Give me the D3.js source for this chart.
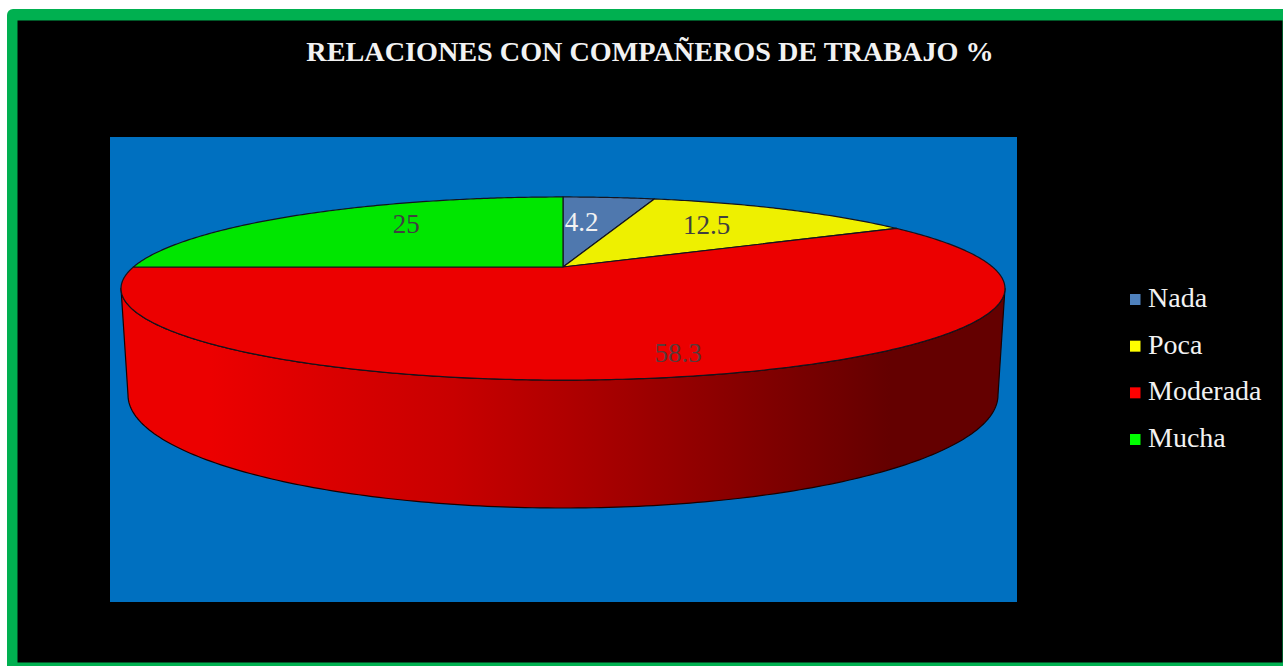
<!DOCTYPE html>
<html><head><meta charset="utf-8">
<script src="https://cdn.jsdelivr.net/npm/d3@7/dist/d3.min.js"></script>
<style>html,body{margin:0;padding:0;background:#fff;overflow:hidden}svg{display:block}text{font-family:"Liberation Serif","Times New Roman",serif}</style>
</head><body><svg id="c" width="1283" height="666"></svg>
<script>
const titleText = "RELACIONES CON COMPAÑEROS DE TRABAJO %";
const categories = ["Nada","Poca","Moderada","Mucha"];
const values = [4.2,12.5,58.3,25];
const sliceColors = ["#4f78ae","#eef000","#ec0000","#00e600"];
const legendColors = ["#4f81bd","#ffff00","#ff0000","#00ff00"];
const labelColors = ["#f2f2f2","#404040","#5a3a3a","#404040"];

const svg = d3.select("#c");
// frame
svg.append("rect").attr("x",7).attr("y",9).attr("width",1300).attr("height",680).attr("rx",6).attr("fill","#00b050");
svg.append("rect").attr("x",17.5).attr("y",20.5).attr("width",1265).attr("height",642).attr("fill","#000");
svg.append("rect").attr("x",110).attr("y",137).attr("width",907).attr("height",465).attr("fill","#0070c0");

svg.append("text").attr("x",650).attr("y",61).attr("text-anchor","middle")
  .attr("font-size",28.2).attr("font-weight","bold").attr("fill","#f2f2f2").text(titleText);

// perspective projection of the pie's top face
const cx=563, apexY=267, R=429.6, H=86.5, k=0.235;
const project=(a,r=1)=>{const s=1/(1+k*r*Math.cos(a));return [cx+R*r*Math.sin(a)*s, apexY-H*r*Math.cos(a)*s];};
const pie=d3.pie().sort(null).value(d=>d)(values);
const line=d3.line();
const arcPts=(a0,a1)=>{const n=Math.max(2,Math.ceil(Math.abs(a1-a0)/0.01));return d3.range(n+1).map(i=>project(a0+(a1-a0)*i/n));};

// side wall: top rim front half to lower rim ellipse
const baseCy=395, baseRx=435, baseRy=113;
const defs=svg.append("defs");
const grad=defs.append("linearGradient").attr("id","wall").attr("gradientUnits","userSpaceOnUse")
  .attr("x1",121).attr("x2",1005).attr("y1",0).attr("y2",0);
[[0,"#ec0000"],[0.10,"#ec0000"],[0.375,"#c80000"],[0.502,"#b00000"],[0.655,"#900000"],[0.87,"#640000"],[1,"#640000"]]
  .forEach(s=>grad.append("stop").attr("offset",s[0]).attr("stop-color",s[1]));

// widest points of the top-face ellipse, found from the projection
const sweep=d3.range(0,2*Math.PI,0.002);
const rightA=d3.greatest(sweep,a=>project(a)[0]);
const leftA=d3.least(sweep,a=>project(a)[0]);
const frontRim=arcPts(rightA,leftA);
const baseRim=d3.range(0,181).map(i=>{const t=Math.PI*i/180;return [cx-baseRx*Math.cos(t),baseCy+baseRy*Math.sin(t)];});
svg.append("path").attr("d",line(frontRim.concat(baseRim))+"Z").attr("fill","url(#wall)")
  .attr("stroke","#1a0000").attr("stroke-width",1.2).attr("stroke-linejoin","round");

// top slices
svg.append("g").selectAll("path").data(pie).join("path")
  .attr("d",d=>line([project(0,0)].concat(arcPts(d.startAngle,d.endAngle)))+"Z")
  .attr("fill",(d,i)=>sliceColors[i]).attr("stroke","#14141e").attr("stroke-width",1.2).attr("stroke-linejoin","round");

// data labels: anchored on each slice's mid angle, with hand-read nudges
const labelRadius=0.835;
const labelNudge=[[-21,15],[-46,8],[1,0],[66,2]];
svg.append("g").selectAll("text").data(pie).join("text")
  .attr("x",(d,i)=>project((d.startAngle+d.endAngle)/2,labelRadius)[0]+labelNudge[i][0])
  .attr("y",(d,i)=>project((d.startAngle+d.endAngle)/2,labelRadius)[1]+labelNudge[i][1])
  .attr("text-anchor","middle").attr("font-size",27).attr("dy","0.33em")
  .attr("fill",(d,i)=>labelColors[i]).text(d=>d.value);

// legend
const legY=d3.scalePoint().domain(categories).range([299.5,439.5]);
const leg=svg.append("g").selectAll("g").data(categories).join("g").attr("transform",d=>`translate(1130,${legY(d)})`);
leg.append("rect").attr("x",0).attr("y",-5.5).attr("width",10.5).attr("height",11).attr("fill",(d,i)=>legendColors[i]);
leg.append("text").attr("x",18).attr("y",7.5).attr("font-size",28).attr("fill","#f2f2f2").text(d=>d);
</script></body></html>
